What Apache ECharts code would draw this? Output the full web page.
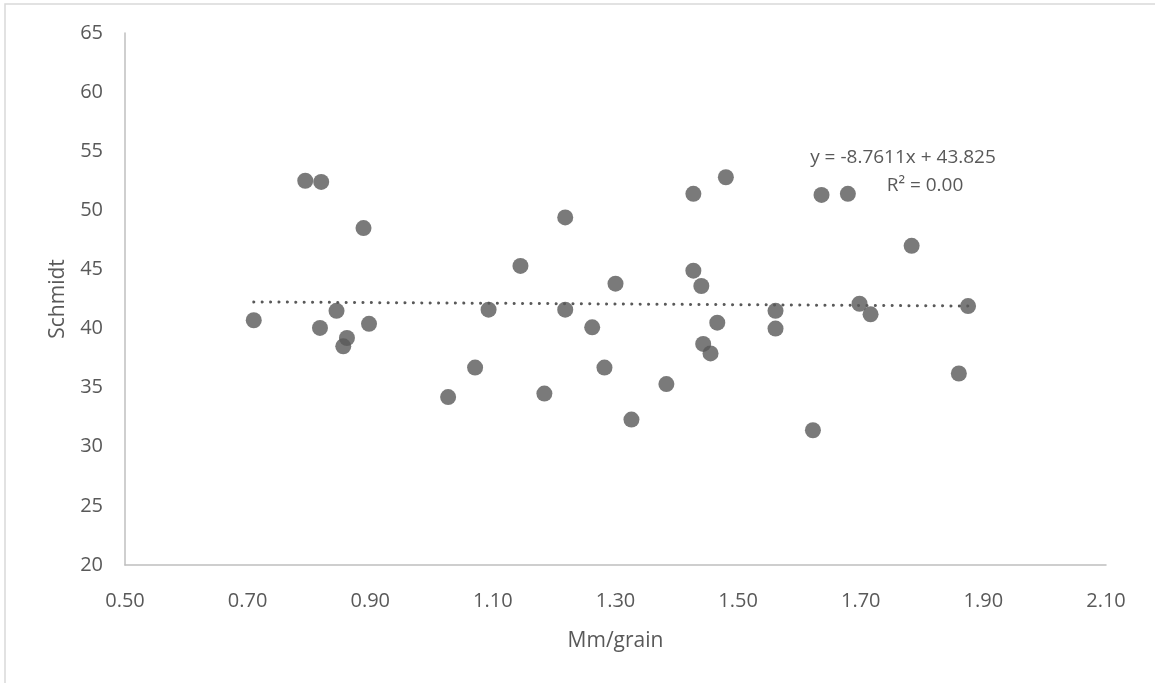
<!DOCTYPE html>
<html>
<head>
<meta charset="utf-8">
<script src="https://cdn.jsdelivr.net/npm/echarts@6/dist/echarts.min.js"></script>
<style>
  html, body { margin: 0; padding: 0; background: #ffffff; }
  #chart { width: 1155px; height: 683px; }
</style>
</head>
<body>
<div id="chart"></div>
<script>
// Grain size (mm per grain) against Schmidt hammer rebound
const mmPerGrain = [
  0.71, 0.794, 0.82, 0.818, 0.845, 0.862, 0.856, 0.889, 0.898, 1.027,
  1.071, 1.093, 1.145, 1.184, 1.218, 1.218, 1.262, 1.282, 1.30, 1.326,
  1.383, 1.427, 1.427, 1.44, 1.443, 1.455, 1.466, 1.48, 1.561, 1.561,
  1.622, 1.636, 1.679, 1.698, 1.716, 1.783, 1.86, 1.875
];
const schmidt = [
  40.7, 52.5, 52.4, 40.05, 41.5, 39.2, 38.5, 48.5, 40.4, 34.2,
  36.7, 41.6, 45.3, 34.5, 49.4, 41.6, 40.1, 36.7, 43.8, 32.3,
  35.3, 51.4, 44.9, 43.6, 38.7, 37.9, 40.5, 52.8, 41.5, 40.0,
  31.4, 51.3, 51.4, 42.1, 41.2, 47.0, 36.2, 41.9
];
const trendLabel = ['y = -8.7611x + 43.825', 'R\u00b2 = 0.00'];

const FONT = '"Open Sans", "Noto Sans", sans-serif';
const GREY = '#595959';

// Least-squares linear trend over the data's x range
function linearFit(xs, ys) {
  const n = xs.length;
  let sx = 0, sy = 0, sxx = 0, sxy = 0;
  for (let i = 0; i < n; i++) {
    sx += xs[i]; sy += ys[i]; sxx += xs[i] * xs[i]; sxy += xs[i] * ys[i];
  }
  const slope = (n * sxy - sx * sy) / (n * sxx - sx * sx);
  const intercept = (sy - slope * sx) / n;
  return { slope, intercept };
}
const fit = linearFit(mmPerGrain, schmidt);
const xMin = Math.min(...mmPerGrain);
const xMax = Math.max(...mmPerGrain);
const trendPoints = [
  [xMin, fit.intercept + fit.slope * xMin],
  [xMax, fit.intercept + fit.slope * xMax]
];

const points = mmPerGrain.map((x, i) => [x, schmidt[i]]);

const chart = echarts.init(document.getElementById('chart'), null, { renderer: 'canvas' });
chart.setOption({
  backgroundColor: '#ffffff',
  animation: false,
  grid: { left: 125, right: 49, top: 33, bottom: 118, containLabel: false },
  xAxis: {
    type: 'value',
    min: 0.5, max: 2.1, interval: 0.2,
    name: 'Mm/grain',
    nameLocation: 'middle',
    nameGap: 66,
    nameTextStyle: { fontFamily: FONT, fontSize: 21, color: GREY },
    axisLine: { show: true, onZero: false, lineStyle: { color: '#bfbfbf', width: 1.5 } },
    axisTick: { show: false },
    splitLine: { show: false },
    axisLabel: {
      fontFamily: FONT, fontSize: 20, color: GREY, margin: 26,
      formatter: v => v.toFixed(2)
    }
  },
  yAxis: {
    type: 'value',
    min: 20, max: 65, interval: 5,
    name: 'Schmidt',
    nameLocation: 'middle',
    nameGap: 56,
    nameTextStyle: { fontFamily: FONT, fontSize: 21, color: GREY },
    axisLine: { show: true, onZero: false, lineStyle: { color: '#bfbfbf', width: 1.5 } },
    axisTick: { show: false },
    splitLine: { show: false },
    axisLabel: { fontFamily: FONT, fontSize: 20, color: GREY, margin: 22 }
  },
  series: [
    {
      name: 'Schmidt',
      type: 'scatter',
      data: points,
      symbol: 'circle',
      symbolSize: 16,
      itemStyle: { color: GREY },
      z: 3
    },
    {
      name: 'Linear trend',
      type: 'line',
      data: trendPoints,
      symbol: 'none',
      lineStyle: { color: GREY, width: 3, type: [0.1, 8.3], cap: 'round' },
      z: 2
    }
  ],
  graphic: [
    {
      type: 'rect',
      shape: { x: 5, y: 4, width: 1400, height: 1000 },
      style: { fill: 'none', stroke: '#d9d9d9', lineWidth: 1.5 },
      silent: true, z: -10
    },
    {
      type: 'text',
      x: 903, y: 158,
      style: {
        text: trendLabel[0], fontFamily: FONT, fontSize: 19, fill: GREY,
        align: 'center', verticalAlign: 'middle'
      }
    },
    {
      type: 'text',
      x: 925, y: 186,
      style: {
        text: trendLabel[1], fontFamily: FONT, fontSize: 19, fill: GREY,
        align: 'center', verticalAlign: 'middle'
      }
    }
  ]
});
</script>
</body>
</html>
